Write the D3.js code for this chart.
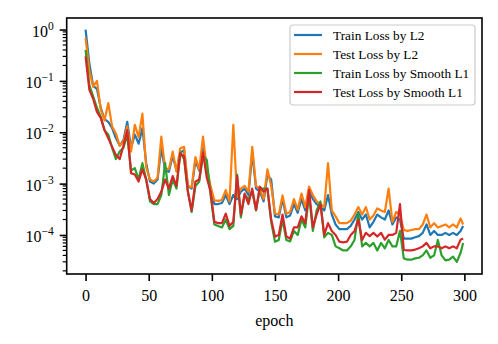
<!DOCTYPE html>
<html>
<head>
<meta charset="utf-8">
<script src="https://cdn.jsdelivr.net/npm/d3@7"></script>
<style>
body { margin:0; background:#fff; }
text { font-family: "Liberation Serif", "Times New Roman", serif; fill:#000; }
</style>
</head>
<body>
<div id="chart"></div>
<script>
// values, every 3rd epoch
let epochs = [0,3,6,9,12,15,18,21,24,27,30,33,36,39,42,45,48,51,54,57,60,63,66,69,72,75,78,81,84,87,90,93,96,99,
    102,105,108,111,114,117,120,123,126,129,132,135,138,141,144,147,150,153,156,159,162,165,168,171,174,177,180,183,186,189,192,195,198,
    201,204,207,210,213,216,219,222,225,228,231,234,237,240,243,246,249,252,255,258,261,264,267,270,273,276,279,282,285,288,291,294,297,299];

let trainL2 = [1.0,0.22,0.08,0.07,0.03,0.018,0.016,0.012,0.0077,0.0055,0.007,0.016,0.005,0.009,0.006,0.012,0.0025,0.0011,0.001,0.0012,
    0.005,0.0018,0.0017,0.0035,0.0018,0.004,0.0045,0.0009,0.0008,0.0028,0.0018,0.0049,0.0019,0.0008,
    0.0004,0.0004,0.00042,0.0006,0.0004,0.0006,0.0005,0.0007,0.0008,0.0006,0.004,0.0008,0.0007,0.00045,0.0015,0.0012,
    0.00023,0.00022,0.0005,0.00022,0.00024,0.0004,0.00027,0.0005,0.0003,0.0007,0.0005,0.0004,0.00035,0.0003,0.0006,0.00025,0.00016,
    0.00013,0.00013,0.00013,0.00015,0.0002,0.00028,0.0002,0.00025,0.00014,0.00018,0.00025,0.00022,0.0002,0.0003,0.00016,0.00022,0.0002,
    8.5e-5,8.5e-5,8.5e-5,9e-5,9.5e-5,0.00011,0.00016,0.0001,0.00012,0.0001,0.0001,0.00011,0.0001,0.00011,0.0001,0.00012,0.00015];

let testL2 = [0.68,0.16,0.077,0.10,0.028,0.017,0.037,0.013,0.0095,0.0055,0.0065,0.013,0.0042,0.014,0.008,0.023,0.0021,0.0012,0.0011,0.0013,
    0.0082,0.002,0.0019,0.0042,0.0017,0.0049,0.0052,0.0009,0.00085,0.0033,0.0019,0.0082,0.002,0.0009,
    0.00047,0.00046,0.00048,0.00075,0.00045,0.014,0.00056,0.0008,0.0009,0.0007,0.0052,0.0009,0.0008,0.0005,0.0019,0.0009,
    0.00026,0.00025,0.00059,0.00026,0.00028,0.0005,0.00031,0.00064,0.00035,0.00087,0.0006,0.00045,0.0004,0.00035,0.0025,0.0003,0.00023,
    0.00017,0.00017,0.00017,0.00019,0.00025,0.00035,0.00025,0.00035,0.0002,0.00024,0.00033,0.0003,0.00028,0.0008,0.00018,0.00028,0.00025,
    0.000125,0.00012,0.000125,0.00013,0.00013,0.00016,0.00025,0.00014,0.00017,0.00014,0.00015,0.00016,0.00014,0.00016,0.00014,0.00021,0.00016];

let trainSL1 = [0.40,0.083,0.05,0.03,0.02,0.011,0.009,0.005,0.003,0.0042,0.005,0.009,0.0018,0.002,0.0012,0.0025,0.0012,0.00045,0.0004,0.0004,
    0.0006,0.0025,0.0006,0.0012,0.0008,0.004,0.003,0.0007,0.00028,0.0009,0.0011,0.0035,0.0029,0.0006,
    0.00016,0.00015,0.00014,0.0002,0.00013,0.00015,0.0015,0.00022,0.0006,0.0005,0.0007,0.0003,0.0008,0.0008,0.0008,0.00018,
    7.4e-5,8e-5,0.0002,8e-5,7.5e-5,0.00012,0.0001,0.0002,0.00014,0.0006,0.00012,0.0003,0.00045,9e-5,0.00011,0.0001,6e-5,
    5.5e-5,5e-5,5e-5,6e-5,8e-5,0.00026,6e-5,7e-5,6e-5,7e-5,5e-5,7e-5,5.5e-5,8e-5,6e-5,6e-5,0.00012,
    3.5e-5,3.3e-5,3.3e-5,3.5e-5,3.6e-5,4e-5,5e-5,3.6e-5,4e-5,8e-5,4e-5,3.2e-5,3.3e-5,3.8e-5,3e-5,4.5e-5,7e-5];

let testSL1 = [0.30,0.067,0.045,0.025,0.019,0.011,0.0076,0.0052,0.0036,0.003,0.0055,0.011,0.0016,0.0015,0.0011,0.0019,0.0012,0.0005,0.00042,0.0005,
    0.0007,0.0012,0.0008,0.0014,0.0009,0.0039,0.0034,0.0007,0.0003,0.0011,0.0012,0.004,0.0013,0.0007,
    0.00018,0.00017,0.00017,0.00026,0.00015,0.00018,0.0014,0.00025,0.00064,0.0004,0.0008,0.00031,0.00087,0.0007,0.0008,0.0002,
    9.3e-5,0.0001,0.00025,9.3e-5,8.5e-5,0.00014,0.00014,0.00023,0.00017,0.00075,0.00014,0.00025,0.0004,0.0001,0.00017,0.00012,0.0001,
    7.4e-5,7.2e-5,7.4e-5,0.0001,0.00012,0.0002,8e-5,0.00011,9.5e-5,0.00011,9.3e-5,0.00011,8.1e-5,0.0001,0.0001,0.00011,0.0004,
    5.1e-5,5e-5,5e-5,5.2e-5,5.5e-5,6e-5,7e-5,5.5e-5,6e-5,6e-5,5.5e-5,6e-5,5.5e-5,6e-5,5.5e-5,8.1e-5,8.5e-5];

let seriesNames = ["Train Loss by L2", "Test Loss by L2", "Train Loss by Smooth L1", "Test Loss by Smooth L1"];
let seriesColors = ["#1f77b4", "#ff7f0e", "#2ca02c", "#d62728"];
let xTicks = [0, 50, 100, 150, 200, 250, 300];
let yTicks = [1, 1e-1, 1e-2, 1e-3, 1e-4];
let yExponents = ["0", "\u22121", "\u22122", "\u22123", "\u22124"];

let width = 498,
    height = 344;
let frame = {left:66.7, right:482, top:18, bottom:274};

let xScale = d3.scaleLinear()
    .domain([-14.95, 313.95])
    .range([frame.left, frame.right]);

let yScale = d3.scaleLog()
    .domain([Math.pow(10, -4.76), Math.pow(10, 0.225)])
    .range([frame.bottom, frame.top]);

let svg = d3.select("#chart").append("svg")
    .attr("width", width)
    .attr("height", height);

svg.append("clipPath").attr("id", "clip")
    .append("rect")
    .attr("x", frame.left).attr("y", frame.top)
    .attr("width", frame.right - frame.left).attr("height", frame.bottom - frame.top);

let allSeries = [trainL2, testL2, trainSL1, testSL1].map(function(vals, i) {
    return {
        name: seriesNames[i],
        color: seriesColors[i],
        points: epochs.map(function(e, j) { return {epoch: e, loss: vals[j]}; })
    };
});

let line = d3.line()
    .x(function(d) { return xScale(d.epoch); })
    .y(function(d) { return yScale(d.loss); });

svg.append("g").attr("clip-path", "url(#clip)")
    .selectAll(".series")
    .data(allSeries)
    .enter().append("path")
    .attr("class", "series")
    .attr("d", function(d) { return line(d.points); })
    .attr("fill", "none")
    .attr("stroke", function(d) { return d.color; })
    .attr("stroke-width", 2.2)
    .attr("stroke-linejoin", "round");

// minor ticks on the log axis
let minorTicks = [];
for (let p = -5; p <= 0; p++) {
    for (let k = 2; k <= 9; k++) {
        let v = k * Math.pow(10, p);
        if (v > yScale.domain()[0] && v < yScale.domain()[1]) minorTicks.push(v);
    }
}
svg.append("g").selectAll("line")
    .data(minorTicks)
    .enter().append("line")
    .attr("x1", frame.left - 4).attr("x2", frame.left)
    .attr("y1", function(d) { return yScale(d); })
    .attr("y2", function(d) { return yScale(d); })
    .attr("stroke", "black").attr("stroke-width", 1.2);

let yAxis = svg.append("g")
    .attr("transform", "translate(" + frame.left + ",0)")
    .call(d3.axisLeft(yScale).tickValues(yTicks).tickSize(7).tickSizeOuter(0).tickFormat(""));
yAxis.select(".domain").remove();
yAxis.selectAll(".tick line").attr("stroke-width", 1.6);
yAxis.selectAll(".tick text").remove();
yAxis.selectAll(".tick").each(function(d, i) {
    let t = d3.select(this).append("text")
        .attr("x", -13)
        .attr("y", 6.5)
        .attr("text-anchor", "end")
        .attr("font-size", 16)
        .attr("fill", "black");
    t.append("tspan").text("10");
    t.append("tspan").attr("dy", -7).attr("font-size", 11.5).text(yExponents[i]);
});

let xAxis = svg.append("g")
    .attr("transform", "translate(0," + frame.bottom + ")")
    .call(d3.axisBottom(xScale).tickValues(xTicks).tickSize(7).tickSizeOuter(0).tickPadding(9));
xAxis.select(".domain").remove();
xAxis.selectAll(".tick line").attr("stroke-width", 1.6);
xAxis.selectAll(".tick text")
    .attr("font-size", 16)
    .attr("font-family", "Liberation Serif, Times New Roman, serif");

svg.append("text")
    .attr("x", (frame.left + frame.right) / 2)
    .attr("y", 326)
    .attr("text-anchor", "middle")
    .attr("font-size", 16)
    .text("epoch");

svg.append("rect")
    .attr("x", frame.left).attr("y", frame.top)
    .attr("width", frame.right - frame.left).attr("height", frame.bottom - frame.top)
    .attr("fill", "none").attr("stroke", "black").attr("stroke-width", 1.6);

// legend
let legend = svg.append("g").attr("transform", "translate(290,25)");
legend.append("rect")
    .attr("width", 185).attr("height", 80).attr("rx", 3)
    .attr("fill", "white").attr("fill-opacity", 0.8)
    .attr("stroke", "#cccccc").attr("stroke-width", 1.2);
let rows = legend.selectAll(".row")
    .data(allSeries)
    .enter().append("g")
    .attr("class", "row")
    .attr("transform", function(d, i) { return "translate(0," + (10 + i * 19) + ")"; });
rows.append("line")
    .attr("x1", 4).attr("x2", 32)
    .attr("stroke", function(d) { return d.color; })
    .attr("stroke-width", 2.2);
rows.append("text")
    .attr("x", 43).attr("y", 4.5)
    .attr("font-size", 13.3)
    .text(function(d) { return d.name; });
</script>
</body>
</html>
